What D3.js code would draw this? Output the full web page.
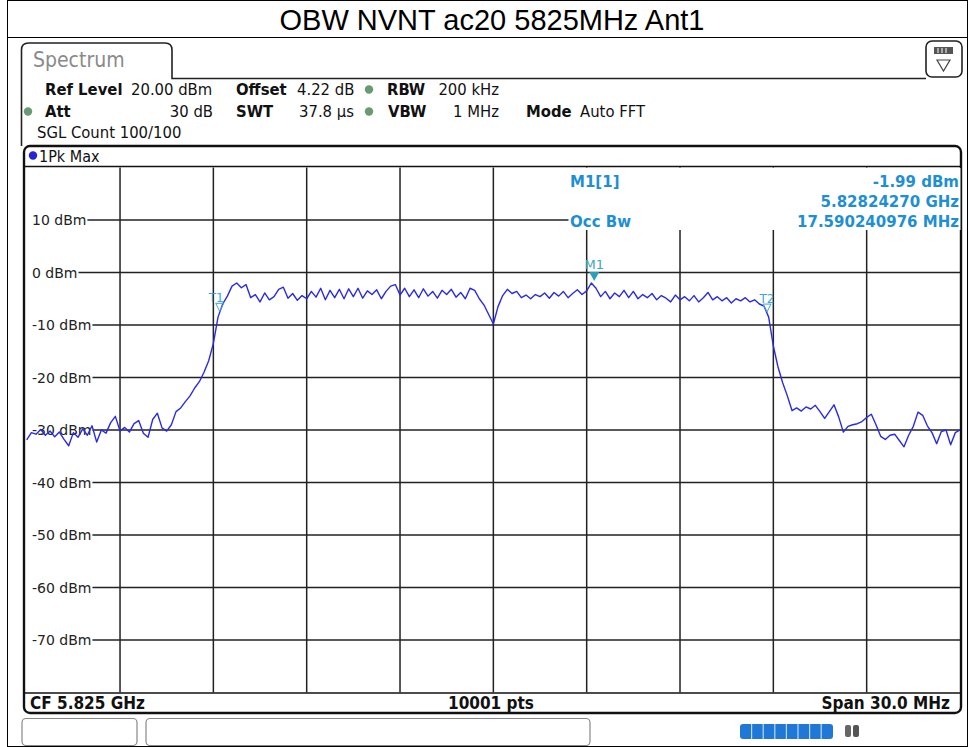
<!DOCTYPE html>
<html><head><meta charset="utf-8">
<script src="https://cdn.jsdelivr.net/npm/d3@7"></script>
<style>body{margin:0;background:#fff} svg{display:block}</style>
</head><body>
<svg id="c" width="968" height="747"></svg>
<script>
// ---------------- data ----------------
const chartTitle = "OBW NVNT ac20 5825MHz Ant1";
const startGHz = 5.810;
const stopGHz = 5.840;
const refLevel = 20;
const bottomLevel = -80;
const yTickValues = [10, 0, -10, -20, -30, -40, -50, -60, -70];
const yTickLabels = ["10 dBm", "0 dBm", "-10 dBm", "-20 dBm", "-30 dBm", "-40 dBm", "-50 dBm", "-60 dBm", "-70 dBm"];
const xDivisions = 10;
// trace levels (dBm), 201 samples evenly across the span
const traceLevels = [
 -31.9,-30.5,-30.8,-29.9,-31.0,-30.2,-31.3,-30.4,-31.8,-33.0,
 -30.5,-31.4,-29.8,-31.0,-29.2,-32.3,-30.0,-30.6,-28.6,-27.4,
 -30.2,-29.5,-30.4,-28.8,-28.2,-30.6,-31.4,-28.0,-26.8,-29.6,
 -30.2,-29.0,-26.5,-25.8,-24.6,-23.5,-22.0,-20.8,-19.0,-16.8,
 -13.5,-8.5,-6.0,-4.5,-2.6,-2.0,-2.9,-2.3,-4.8,-4.2,
 -5.6,-3.9,-5.2,-4.6,-3.2,-2.8,-4.9,-4.0,-5.3,-4.4,
 -5.0,-3.6,-4.7,-3.0,-5.2,-3.4,-4.8,-3.2,-5.0,-3.1,
 -4.6,-3.0,-4.9,-3.5,-4.2,-3.3,-5.0,-3.6,-2.6,-2.3,
 -4.3,-3.0,-4.6,-3.3,-4.8,-3.1,-4.5,-3.6,-4.9,-3.4,
 -4.2,-3.2,-4.7,-3.8,-5.0,-3.0,-3.4,-5.0,-6.2,-8.0,
 -9.8,-6.5,-4.4,-3.2,-4.0,-3.6,-4.8,-4.3,-5.0,-4.2,
 -4.6,-3.9,-4.9,-3.8,-4.5,-3.6,-4.8,-4.0,-3.3,-4.2,
 -3.5,-2.0,-3.0,-4.6,-3.6,-5.0,-3.9,-4.6,-3.4,-4.8,
 -3.6,-5.0,-4.2,-4.8,-4.0,-5.2,-4.4,-4.9,-5.6,-4.3,
 -5.2,-4.6,-5.4,-4.4,-5.6,-4.8,-3.8,-5.2,-4.6,-5.4,
 -4.8,-5.8,-5.0,-5.4,-4.8,-5.6,-5.2,-6.0,-6.4,-8.5,
 -14.0,-18.0,-21.0,-23.5,-26.3,-25.8,-26.4,-25.6,-26.0,-25.3,
 -26.5,-27.8,-26.5,-25.2,-27.5,-30.4,-29.3,-29.0,-28.8,-28.4,
 -27.6,-27.0,-29.0,-31.2,-31.8,-31.0,-30.8,-32.0,-33.2,-31.0,
 -29.3,-26.6,-27.2,-29.2,-30.5,-32.6,-30.3,-30.0,-32.8,-30.5,
 -30.0
];
const marker1 = { name: "M1", label: "M1[1]", freqGHz: 5.82824270, level: -1.99 };
const occBwMHz = 17.590240976;
const centerGHz = 5.825;
const settingsRow1 = [
  { t: "Ref Level", b: true, x: 45 }, { t: "20.00 dBm", x: 131 },
  { t: "Offset", b: true, x: 236 }, { t: "4.22 dB", x: 297 },
  { t: "RBW", b: true, x: 387 }, { t: "200 kHz", x: 499, end: true }
];
const settingsRow2 = [
  { t: "Att", b: true, x: 45 }, { t: "30 dB", x: 213, end: true },
  { t: "SWT", b: true, x: 236 }, { t: "37.8 µs", x: 299 },
  { t: "VBW", b: true, x: 388 }, { t: "1 MHz", x: 499, end: true },
  { t: "Mode", b: true, x: 526 }, { t: "Auto FFT", x: 580 }
];
const settingsRow3 = [{ t: "SGL Count 100/100", x: 37 }];
const footer = { left: "CF 5.825 GHz", mid: "10001 pts", right: "Span 30.0 MHz" };
const traceName = "1Pk Max";

// ---------------- drawing ----------------
const svg = d3.select("#c");
const F = "'DejaVu Sans Condensed','DejaVu Sans',sans-serif";
const FW = "'DejaVu Sans',sans-serif";

// outer frame + title
svg.append("rect").attr("x", 7.5).attr("y", 0.5).attr("width", 960).attr("height", 746)
  .attr("fill", "none").attr("stroke", "#000").attr("stroke-width", 1);
svg.append("line").attr("x1", 7.5).attr("x2", 968).attr("y1", 37.5).attr("y2", 37.5)
  .attr("stroke", "#000").attr("stroke-width", 1);
svg.append("text").attr("x", 492).attr("y", 30).attr("text-anchor", "middle")
  .attr("font-family", "'Liberation Sans',Arial,sans-serif").attr("font-size", 29)
  .attr("fill", "#000").text(chartTitle);

// Spectrum tab
svg.append("path").attr("d", "M21.5,146 L21.5,50 Q21.5,43 28.5,43 L165,43 Q172,43 172,50 L172,78.5 L926,78.5")
  .attr("fill", "none").attr("stroke", "#222").attr("stroke-width", 1.6);
svg.append("text").attr("x", 33).attr("y", 67).attr("font-family", F).attr("font-size", 21)
  .attr("fill", "#8a8a8a").text("Spectrum");
// icon box
svg.append("rect").attr("x", 926).attr("y", 41).attr("width", 36).attr("height", 36).attr("rx", 6)
  .attr("fill", "#fff").attr("stroke", "#222").attr("stroke-width", 1.6);
svg.append("rect").attr("x", 934).attr("y", 47).attr("width", 19).attr("height", 7).attr("fill", "#555");
[938, 942, 946].forEach(x => svg.append("line").attr("x1", x).attr("x2", x).attr("y1", 48).attr("y2", 53)
  .attr("stroke", "#fff").attr("stroke-width", 1));
svg.append("path").attr("d", "M937,60 L950,60 L943.5,71 Z").attr("fill", "none").attr("stroke", "#444").attr("stroke-width", 1.2);

// settings rows
function drawRow(items, y) {
  items.forEach(d => {
    svg.append("text").attr("x", d.x).attr("y", y).attr("font-family", F).attr("font-size", 16.5)
      .attr("font-weight", d.b ? "bold" : "normal").attr("text-anchor", d.end ? "end" : "start")
      .attr("fill", "#111").text(d.t);
  });
}
drawRow(settingsRow1, 95);
drawRow(settingsRow2, 117);
drawRow(settingsRow3, 138);
// green status dots
[[369, 89.5], [369, 111.5], [28, 111.5]].forEach(([x, y]) =>
  svg.append("circle").attr("cx", x).attr("cy", y).attr("r", 4.2).attr("fill", "#6a9a70"));

// graph box
const box = { x: 24, y: 146, w: 937, h: 567 };
svg.append("rect").attr("x", box.x).attr("y", box.y).attr("width", box.w).attr("height", box.h).attr("rx", 6)
  .attr("fill", "#fff").attr("stroke", "#111").attr("stroke-width", 2.4);
svg.append("circle").attr("cx", 33).attr("cy", 155.5).attr("r", 4.2).attr("fill", "#2424d8");
svg.append("text").attr("x", 39).attr("y", 161.5).attr("font-family", F).attr("font-size", 16)
  .attr("fill", "#111").text(traceName);

// scales
const plot = { left: 26.7, right: 960, top: 167.5, bottom: 692.5 };
const x = d3.scaleLinear().domain([startGHz, stopGHz]).range([plot.left, plot.right]);
const y = d3.scaleLinear().domain([bottomLevel, refLevel]).range([plot.bottom, plot.top]);

// header / footer separators
svg.append("line").attr("x1", box.x).attr("x2", box.x + box.w).attr("y1", 166.5).attr("y2", 166.5)
  .attr("stroke", "#111").attr("stroke-width", 1.4);
svg.append("line").attr("x1", box.x).attr("x2", box.x + box.w).attr("y1", 693).attr("y2", 693)
  .attr("stroke", "#111").attr("stroke-width", 1.4);

// vertical grid
const gridColor = "#222";
const xGrid = d3.range(1, xDivisions).map(i => startGHz + i * (stopGHz - startGHz) / xDivisions);
svg.append("g").selectAll("line").data(xGrid).join("line")
  .attr("x1", d => x(d)).attr("x2", d => x(d)).attr("y1", plot.top).attr("y2", plot.bottom)
  .attr("stroke", gridColor).attr("stroke-width", 1.5);

// y labels and horizontal grid
const yg = svg.append("g");
yTickValues.forEach((v, i) => {
  const t = yg.append("text").attr("x", 32).attr("y", y(v) + 5).attr("font-family", FW).attr("font-size", 14)
    .attr("fill", "#222").text(yTickLabels[i]);
  const w = t.node().getComputedTextLength();
  yg.append("line").attr("x1", 32 + w + 1).attr("x2", plot.right).attr("y1", y(v)).attr("y2", y(v))
    .attr("stroke", gridColor).attr("stroke-width", 1.5);
});

// marker info block (white background masks grid)
svg.append("rect").attr("x", 568.5).attr("y", 168).attr("width", 392).attr("height", 62).attr("fill", "#fff");
const infoColor = "#1e8fd4";
const info = svg.append("g").attr("font-family", FW).attr("font-size", 15).attr("font-weight", "bold").attr("fill", infoColor);
info.append("text").attr("x", 570).attr("y", 187).text(marker1.label);
info.append("text").attr("x", 959).attr("y", 187).attr("text-anchor", "end").text(marker1.level.toFixed(2) + " dBm");
info.append("text").attr("x", 959).attr("y", 207).attr("text-anchor", "end").text(marker1.freqGHz.toFixed(8) + " GHz");
info.append("text").attr("x", 570).attr("y", 227).text("Occ Bw");
info.append("text").attr("x", 959).attr("y", 227).attr("text-anchor", "end").text(occBwMHz.toFixed(9) + " MHz");

// trace
const step = (stopGHz - startGHz) / (traceLevels.length - 1);
const pts = traceLevels.map((v, i) => [startGHz + i * step, v]);
svg.append("clipPath").attr("id", "clip").append("rect")
  .attr("x", plot.left - 2).attr("y", plot.top).attr("width", plot.right - plot.left + 2).attr("height", plot.bottom - plot.top);
svg.append("path").datum(pts).attr("clip-path", "url(#clip)")
  .attr("d", d3.line().x(d => x(d[0])).y(d => y(d[1])))
  .attr("fill", "none").attr("stroke", "#2a2ae6").attr("stroke-width", 1.4).attr("stroke-linejoin", "round");

// T1/T2 markers at OBW edges
function levelAt(f) {
  const i = Math.min(traceLevels.length - 2, Math.floor((f - startGHz) / step));
  const t = (f - startGHz) / step - i;
  return traceLevels[i] * (1 - t) + traceLevels[i + 1] * t;
}
const tColor = "#3fa4dc";
[["T1", centerGHz - occBwMHz / 2000], ["T2", centerGHz + occBwMHz / 2000]].forEach(([n, f]) => {
  const px = x(f), py = y(levelAt(f));
  svg.append("path").attr("d", `M${px - 4},${py - 9} L${px + 4},${py - 9} L${px},${py - 1} Z`)
    .attr("fill", "none").attr("stroke", tColor).attr("stroke-width", 1);
  svg.append("text").attr("x", px).attr("y", py - 10).attr("text-anchor", n === "T1" ? "end" : "middle")
    .attr("dx", n === "T1" ? 4 : 0)
    .attr("font-family", FW).attr("font-size", 12).attr("fill", tColor).text(n);
});

// M1 marker
const mx = x(marker1.freqGHz), my = y(marker1.level);
const mColor = "#2a9fb8";
svg.append("path").attr("d", `M${mx - 5},${my - 11} L${mx + 5},${my - 11} L${mx},${my - 2} Z`).attr("fill", mColor);
svg.append("text").attr("x", mx).attr("y", my - 14).attr("text-anchor", "middle")
  .attr("font-family", FW).attr("font-size", 13).attr("fill", "#3aa8c4").text(marker1.name);

// footer
const ft = svg.append("g").attr("font-family", F).attr("font-size", 17).attr("font-weight", "bold").attr("fill", "#111");
ft.append("text").attr("x", 30).attr("y", 709).text(footer.left);
ft.append("text").attr("x", 491).attr("y", 709).attr("text-anchor", "middle").text(footer.mid);
ft.append("text").attr("x", 950).attr("y", 709).attr("text-anchor", "end").text(footer.right);

// status bar
svg.append("rect").attr("x", 22).attr("y", 718.5).attr("width", 115).attr("height", 27).attr("rx", 4)
  .attr("fill", "#fff").attr("stroke", "#888").attr("stroke-width", 1.2);
svg.append("rect").attr("x", 146).attr("y", 718.5).attr("width", 444).attr("height", 27).attr("rx", 4)
  .attr("fill", "#fff").attr("stroke", "#888").attr("stroke-width", 1.2);
svg.append("rect").attr("x", 740).attr("y", 724).attr("width", 93).attr("height", 15).attr("rx", 3).attr("fill", "#1f78d6");
d3.range(1, 8).forEach(i => svg.append("line").attr("x1", 740 + i * 11.6).attr("x2", 740 + i * 11.6)
  .attr("y1", 724).attr("y2", 739).attr("stroke", "#bcd8f4").attr("stroke-width", 1.2));
svg.append("rect").attr("x", 845).attr("y", 725).attr("width", 6).attr("height", 12).attr("rx", 2).attr("fill", "#666");
svg.append("rect").attr("x", 853).attr("y", 725).attr("width", 6).attr("height", 12).attr("rx", 2).attr("fill", "#555");
</script>
</body></html>
